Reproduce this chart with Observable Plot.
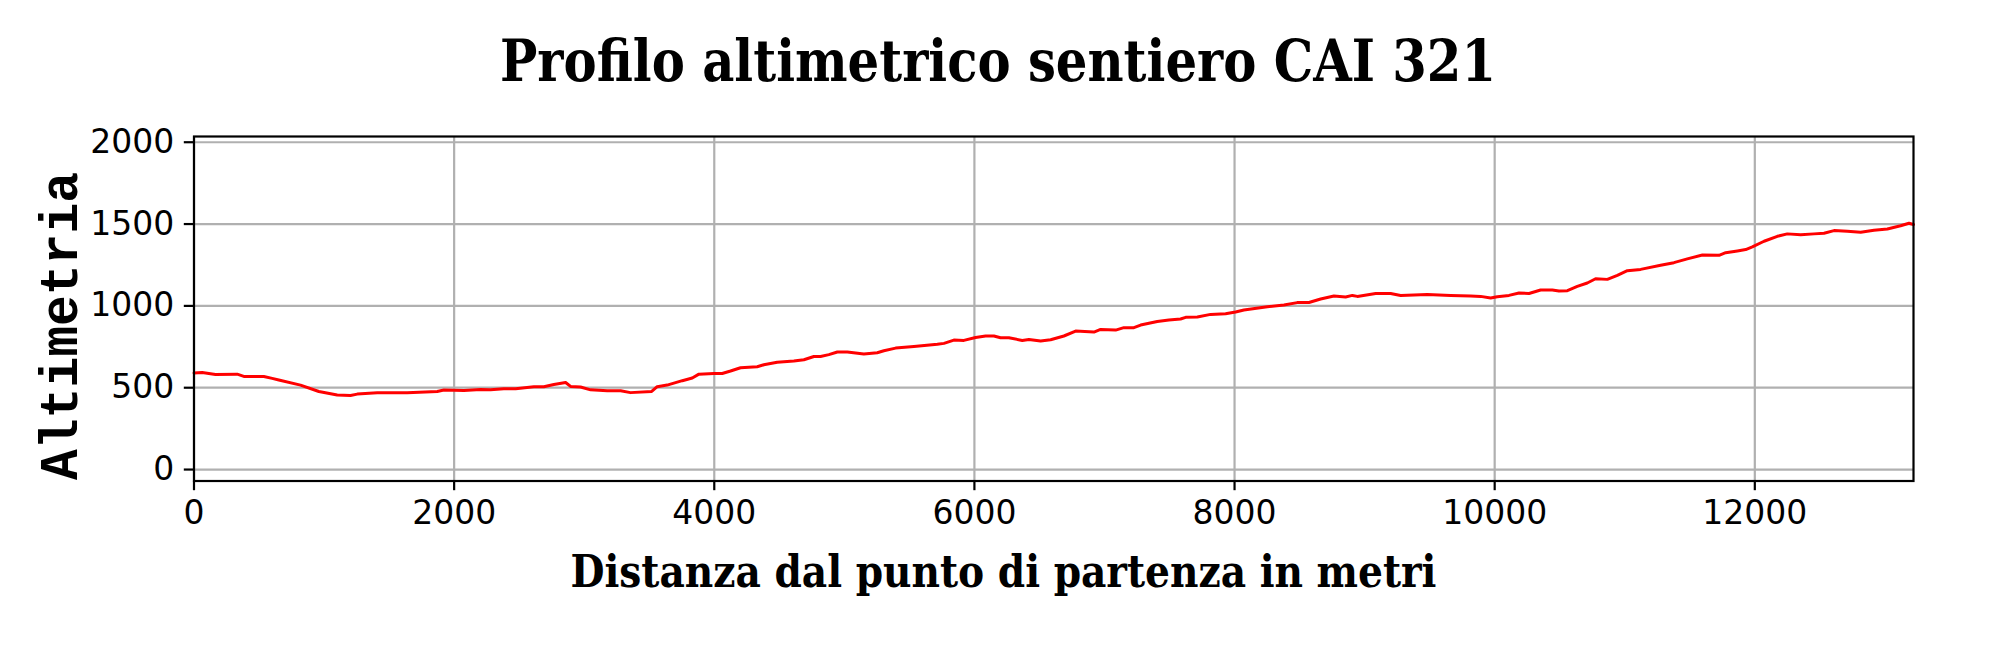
<!DOCTYPE html>
<html>
<head>
<meta charset="utf-8">
<script src="https://cdn.jsdelivr.net/npm/d3@7"></script>
<script src="https://cdn.jsdelivr.net/npm/@observablehq/plot@0.6"></script>
<style>
  html, body { margin: 0; padding: 0; background: #fff; }
  #chart { width: 1996px; height: 660px; }
</style>
</head>
<body>
<div id="chart"></div>
<script>
const titleText = "Profilo altimetrico sentiero CAI 321";
const xLabelText = "Distanza dal punto di partenza in metri";
const yLabelText = "Altimetria";

const xTicks = [0, 2000, 4000, 6000, 8000, 10000, 12000];
const yTicks = [0, 500, 1000, 1500, 2000];

const distance = [
  0, 63, 165, 332, 383, 537, 601, 652, 819, 960, 1101, 1203, 1255, 1409, 1639, 1870, 1921,
  2075, 2203, 2280, 2382, 2473, 2613, 2690, 2767, 2857, 2895, 2972, 3049, 3177, 3280, 3356,
  3519, 3561, 3638, 3754, 3831, 3882, 3997, 4061, 4125, 4202, 4330, 4381, 4484, 4612, 4689,
  4766, 4817, 4881, 4946, 5023, 5150, 5253, 5304, 5394, 5535, 5715, 5766, 5842, 5919, 6009,
  6086, 6150, 6201, 6265, 6368, 6419, 6509, 6586, 6688, 6778, 6919, 6970, 7086, 7149, 7226,
  7278, 7406, 7495, 7585, 7624, 7714, 7816, 7931, 8008, 8072, 8252, 8380, 8482, 8572, 8662,
  8764, 8854, 8906, 8944, 9085, 9200, 9277, 9482, 9661, 9815, 9892, 9969, 10020, 10110, 10187,
  10264, 10353, 10443, 10494, 10559, 10635, 10712, 10776, 10866, 10943, 11020, 11122, 11276,
  11378, 11481, 11597, 11725, 11776, 11866, 11930, 11981, 12071, 12173, 12250, 12353, 12455,
  12532, 12609, 12711, 12814, 12916, 13019, 13121, 13185, 13220
];
const altitude = [
  590, 593, 581, 583, 569, 569, 557, 547, 516, 477, 455, 453, 461, 469, 469, 477, 486,
  483, 489, 487, 494, 494, 506, 506, 520, 532, 508, 504, 487, 481, 481, 470,
  477, 506, 516, 543, 559, 583, 587, 587, 602, 622, 628, 640, 655, 663, 671,
  691, 691, 702, 718, 718, 706, 714, 726, 742, 752, 765, 771, 791, 789, 807,
  816, 816, 805, 805, 789, 795, 785, 793, 816, 846, 840, 856, 852, 867, 867,
  883, 905, 914, 920, 930, 932, 948, 952, 963, 975, 995, 1005, 1020, 1021, 1042,
  1060, 1054, 1064, 1058, 1076, 1076, 1064, 1070, 1064, 1060, 1058, 1048, 1056, 1064, 1079,
  1076, 1097, 1097, 1091, 1093, 1119, 1140, 1166, 1162, 1187, 1215, 1223, 1248,
  1264, 1287, 1311, 1309, 1325, 1336, 1344, 1360, 1395, 1425, 1440, 1435, 1440,
  1444, 1460, 1456, 1450, 1462, 1470, 1490, 1505, 1497
];

const data = distance.map((d, i) => ({d, a: altitude[i]}));

const W = 1996, H = 660;
const frameLeft = 193.5, frameRight = 1913, frameTop = 136, frameBottom = 480.5;

const tickFont = "'DejaVu Sans', sans-serif";

const chart = Plot.plot({
  width: W,
  height: H,
  marginLeft: frameLeft,
  marginRight: W - frameRight,
  marginTop: frameTop,
  marginBottom: H - frameBottom,
  style: {background: "#fff", color: "#000", fontFamily: tickFont, fontSize: "33px", overflow: "visible"},
  x: {domain: [0, 13220], label: null},
  y: {domain: [-70, 2035], label: null},
  marks: [
    Plot.gridX(xTicks, {stroke: "#b0b0b0", strokeOpacity: 1, strokeWidth: 2.2}),
    Plot.gridY(yTicks, {stroke: "#b0b0b0", strokeOpacity: 1, strokeWidth: 2.2}),
    Plot.line(data, {x: "d", y: "a", stroke: "#ff0000", strokeWidth: 3}),
    Plot.frame({stroke: "#000", strokeWidth: 2.2}),
    Plot.axisX(xTicks, {tickSize: 9.7, tickPadding: 10, strokeWidth: 2.2, stroke: "#000", fill: "#000",
      fontSize: 33, fontFamily: tickFont, tickFormat: d => String(d), label: null}),
    Plot.axisY(yTicks, {tickSize: 9.7, tickPadding: 10, strokeWidth: 2.2, stroke: "#000", fill: "#000",
      fontSize: 33, fontFamily: tickFont, tickFormat: d => String(d), label: null})
  ]
});

const svg = d3.select(chart);

svg.append("text")
  .attr("x", 998).attr("y", 81)
  .attr("text-anchor", "middle")
  .attr("textLength", 996).attr("lengthAdjust", "spacingAndGlyphs")
  .style("font-family", "'DejaVu Serif Condensed', 'DejaVu Serif', serif")
  .style("font-stretch", "condensed")
  .style("font-size", "58.6px")
  .style("font-weight", "bold")
  .style("fill", "#000")
  .text(titleText);

svg.append("text")
  .attr("x", 1003.5).attr("y", 587)
  .attr("text-anchor", "middle")
  .attr("textLength", 866).attr("lengthAdjust", "spacingAndGlyphs")
  .style("font-family", "'DejaVu Serif Condensed', 'DejaVu Serif', serif")
  .style("font-stretch", "condensed")
  .style("font-size", "44px")
  .style("font-weight", "bold")
  .style("fill", "#000")
  .text(xLabelText);

svg.append("text")
  .attr("transform", "translate(77,326) rotate(-90)")
  .attr("text-anchor", "middle")
  .attr("textLength", 308).attr("lengthAdjust", "spacingAndGlyphs")
  .style("font-family", "'Liberation Mono', 'DejaVu Sans Mono', monospace")
  .style("font-size", "54px")
  .style("font-weight", "bold")
  .style("fill", "#000")
  .text(yLabelText);

document.getElementById("chart").appendChild(chart);
</script>
</body>
</html>
